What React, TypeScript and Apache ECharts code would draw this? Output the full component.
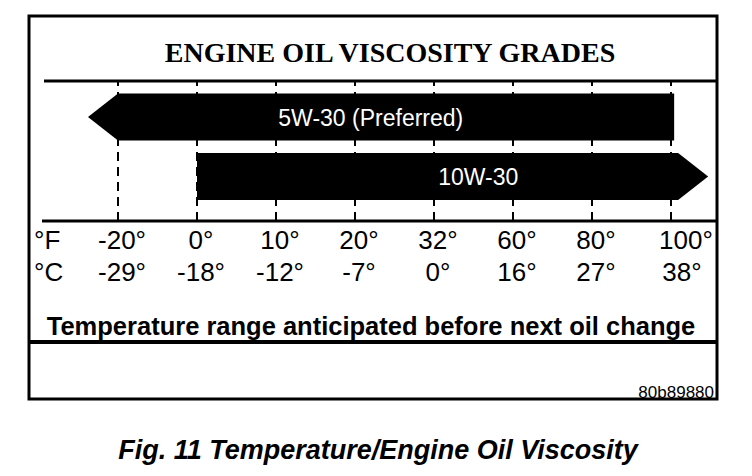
import React, { useEffect, useRef } from "react";
import * as echarts from "echarts";

// Tick labels (ordinal temperature scale)
const fahrenheitLabels = ["-20°", "0°", "10°", "20°", "32°", "60°", "80°", "100°"];
const celsiusLabels = ["-29°", "-18°", "-12°", "-7°", "0°", "16°", "27°", "38°"];

// Viscosity grades, extents expressed in tick-index units
const grades = ["5W-30 (Preferred)", "10W-30"];
const gradeLow = [-0.38, 1.0];
const gradeHigh = [7.04, 7.47];
const gradeHead = ["left", "right"];
const gradeLabelAt = [3.2, 4.56];

const chartTitle = "ENGINE OIL VISCOSITY GRADES";
const axisTitle = "Temperature range anticipated before next oil change";
const figureCode = "80b89880";
const caption = "Fig. 11 Temperature/Engine Oil Viscosity";

export default function App() {
  const ref = useRef<HTMLDivElement>(null);
  useEffect(() => {
    if (!ref.current) return;
    const chart = echarts.init(ref.current, null, { renderer: "svg" });
    const sans = "'Liberation Sans', Arial, sans-serif";
    const serif = "'Liberation Serif', 'Times New Roman', serif";
    const data = grades.map((g, i) => ({
      name: g,
      value: [gradeLow[i], gradeHigh[i], i, gradeHead[i] === "left" ? 0 : 1, gradeLabelAt[i]],
    }));
    const lastPad = (labels: string[], pad: number) =>
      labels.map((l, i) =>
        i === labels.length - 1 ? { value: l, textStyle: { padding: [0, 0, 0, pad] } } : l
      );
    chart.setOption({
      animation: false,
      backgroundColor: "#fff",
      grid: { left: 78.5, right: 41.5, top: 81.3, bottom: 254.9 },
      xAxis: [
        { type: "value", min: -0.5, max: 7.5, show: false },
        {
          type: "category",
          data: lastPad(fahrenheitLabels, 30),
          position: "bottom",
          axisLine: { show: false },
          axisTick: {
            show: true,
            alignWithLabel: true,
            inside: true,
            length: 140,
            lineStyle: { color: "#000", width: 2, type: [9, 6] },
          },
          axisLabel: { color: "#000", fontSize: 26, fontFamily: sans, margin: 6, padding: [0, 0, 0, 8] },
          splitLine: { show: false },
        },
        {
          type: "category",
          data: lastPad(celsiusLabels, 22),
          position: "bottom",
          offset: 32,
          axisLine: { show: false },
          axisTick: { show: false },
          axisLabel: { color: "#000", fontSize: 26, fontFamily: sans, margin: 6, padding: [0, 0, 0, 8] },
          splitLine: { show: false },
        },
      ],
      yAxis: { type: "value", min: -0.6, max: 1.75, inverse: true, show: false },
      series: [
        {
          type: "custom",
          xAxisIndex: 0,
          yAxisIndex: 0,
          z: 5,
          data,
          renderItem: (params: any, api: any) => {
            const lo = api.value(0);
            const hi = api.value(1);
            const row = api.value(2);
            const dir = api.value(3);
            const labelAt = api.value(4);
            const pLo = api.coord([lo, row]);
            const pHi = api.coord([hi, row]);
            const pLab = api.coord([labelAt, row]);
            const h = 47;
            const head = 30;
            const y = pLo[1];
            const points =
              dir === 0
                ? [
                    [pLo[0], y],
                    [pLo[0] + head, y - h / 2],
                    [pHi[0], y - h / 2],
                    [pHi[0], y + h / 2],
                    [pLo[0] + head, y + h / 2],
                  ]
                : [
                    [pLo[0], y - h / 2],
                    [pHi[0] - head, y - h / 2],
                    [pHi[0], y],
                    [pHi[0] - head, y + h / 2],
                    [pLo[0], y + h / 2],
                  ];
            return {
              type: "group",
              children: [
                { type: "polygon", shape: { points }, style: { fill: "#000" } },
                {
                  type: "text",
                  style: {
                    text: grades[params.dataIndex],
                    x: pLab[0],
                    y: y + 1,
                    fill: "#fff",
                    fontSize: 23,
                    fontFamily: sans,
                    align: "center",
                    verticalAlign: "middle",
                  },
                },
              ],
            };
          },
        },
      ],
      graphic: [
        {
          type: "rect",
          shape: { x: 29, y: 16, width: 688, height: 383 },
          style: { fill: "none", stroke: "#000", lineWidth: 3 },
          z: 10,
        },
        {
          type: "line",
          shape: { x1: 44, y1: 81, x2: 717, y2: 81 },
          style: { stroke: "#000", lineWidth: 3 },
          z: 10,
        },
        {
          type: "line",
          shape: { x1: 42, y1: 221, x2: 717, y2: 221 },
          style: { stroke: "#000", lineWidth: 3 },
          z: 10,
        },
        {
          type: "line",
          shape: { x1: 29, y1: 342, x2: 717, y2: 342 },
          style: { stroke: "#000", lineWidth: 4 },
          z: 10,
        },
        {
          type: "text",
          style: {
            text: chartTitle,
            x: 390,
            y: 52,
            fill: "#000",
            fontSize: 28,
            fontWeight: "bold",
            fontFamily: serif,
            align: "center",
            verticalAlign: "middle",
          },
        },
        {
          type: "text",
          style: { text: "°F", x: 34, y: 240, fill: "#000", fontSize: 26, fontFamily: sans, verticalAlign: "middle" },
        },
        {
          type: "text",
          style: { text: "°C", x: 34, y: 272, fill: "#000", fontSize: 26, fontFamily: sans, verticalAlign: "middle" },
        },
        {
          type: "text",
          style: {
            text: axisTitle,
            x: 371,
            y: 326,
            fill: "#000",
            fontSize: 25.5,
            fontWeight: "bold",
            fontFamily: sans,
            align: "center",
            verticalAlign: "middle",
          },
        },
        {
          type: "text",
          style: {
            text: figureCode,
            x: 714,
            y: 392,
            fill: "#000",
            fontSize: 17,
            fontFamily: sans,
            align: "right",
            verticalAlign: "middle",
          },
        },
        {
          type: "text",
          style: {
            text: caption,
            x: 378,
            y: 450,
            fill: "#000",
            fontSize: 27,
            fontWeight: "bold",
            fontStyle: "italic",
            fontFamily: sans,
            align: "center",
            verticalAlign: "middle",
          },
        },
      ],
    });
    return () => chart.dispose();
  }, []);
  return (
    <div
      ref={ref}
      style={{ position: "fixed", left: 0, top: 0, width: 752, height: 476, background: "#fff" }}
    />
  );
}
